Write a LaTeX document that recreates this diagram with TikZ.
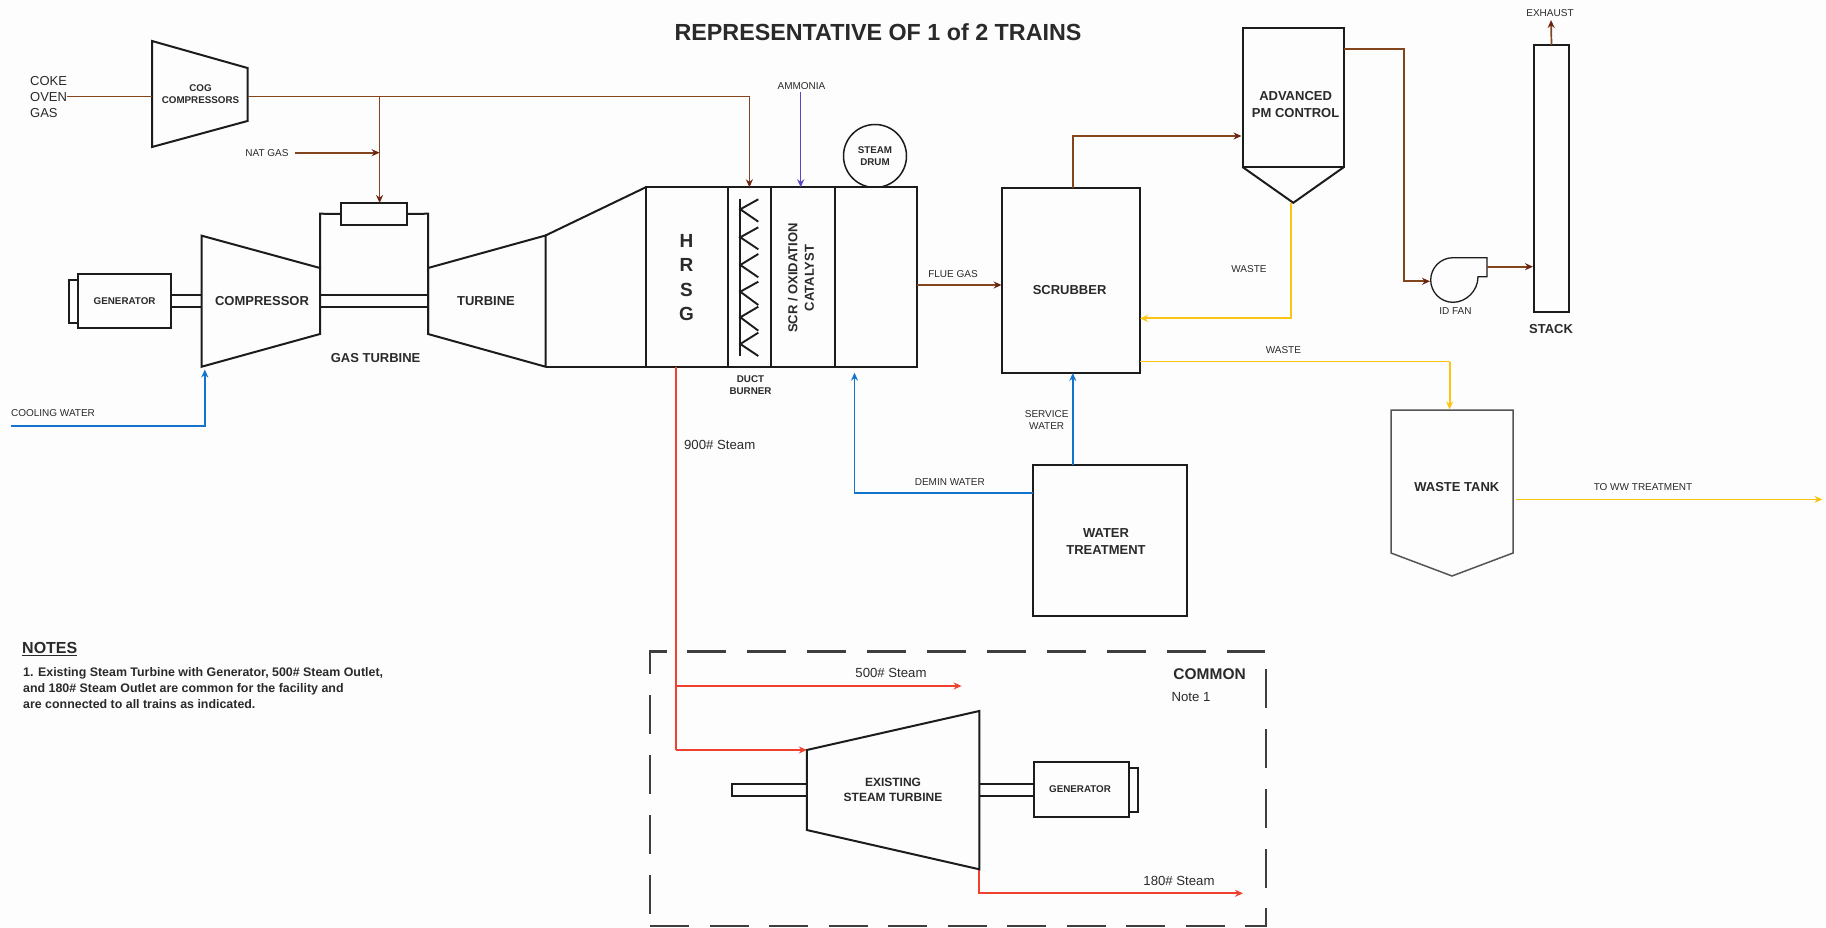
\documentclass[tikz,border=0pt]{standalone}
\usepackage{fontspec}
\setmainfont{Liberation Sans}
\usetikzlibrary{arrows.meta}
\definecolor{gascol}{HTML}{84451E}
\definecolor{tipcol}{HTML}{6B2412}
\definecolor{watercol}{HTML}{1274CC}
\definecolor{steamcol}{HTML}{F0402F}
\definecolor{wastecol}{HTML}{FBC512}
\definecolor{ammcol}{HTML}{5A46C4}
\definecolor{inkcol}{HTML}{2A2A2A}
\definecolor{linecol}{HTML}{1C1C1C}
\definecolor{paper}{HTML}{FDFDFD}
\tikzset{
  ln/.style={draw=linecol,line width=2pt,line join=miter},
  boxn/.style={draw=linecol,line width=2pt,inner sep=0pt,outer sep=0pt,rectangle},
  tip/.style={-{Stealth[length=8pt,width=7pt]}},
  gas/.style={draw=gascol,line width=1.7pt,arrows={-{Stealth[length=8pt,width=7pt,color=tipcol]}}},
  gasn/.style={draw=gascol,line width=1.7pt},
  water/.style={draw=watercol,line width=1.9pt,tip},
  steam/.style={draw=steamcol,line width=1.7pt,tip},
  steamn/.style={draw=steamcol,line width=1.7pt},
  waste/.style={draw=wastecol,line width=1.9pt,tip},
  wastethin/.style={draw=wastecol,line width=1.4pt,tip},
  amm/.style={draw=ammcol,line width=1.4pt,tip},
  txt/.style={text=inkcol,inner sep=0pt,align=center},
  t8/.style={txt,font=\fontsize{10}{12}\selectfont},
  t8b/.style={txt,font=\fontsize{9.8}{12}\selectfont\bfseries},
  t12/.style={txt,font=\fontsize{13.2}{14}\selectfont},
  t13b/.style={txt,font=\fontsize{13}{16.5}\selectfont\bfseries},
  dsh/.style={draw=linecol!85,line width=2.6pt}
}
\begin{document}
\begin{tikzpicture}[x=1pt,y=-1pt]
\useasboundingbox (0,0) rectangle (1826,928);
\fill[paper] (0,0) rectangle (1826,928);

% ---- named points
\coordinate (cogtl) at (152,41);
\coordinate (cogtr) at (247.5,68);
\coordinate (cogbr) at (247.5,121);
\coordinate (cogbl) at (152,147);
\coordinate (cogin) at (152,96.5);
\coordinate (cogout) at (247.5,96.5);
\coordinate (branch) at (379.6,96.5);
\coordinate (natjoin) at (379.6,152.7);
\coordinate (ductdrop) at (749.4,96.5);
\coordinate (comtl) at (201.7,235.7);
\coordinate (comtr) at (320,268);
\coordinate (combr) at (320,334);
\coordinate (combl) at (201.7,366.7);
\coordinate (turtl) at (428,268);
\coordinate (turtr) at (545.5,235.5);
\coordinate (turbr) at (545.5,366.7);
\coordinate (turbl) at (428,334);
\coordinate (coolstart) at (11,425.7);
\coordinate (coolend) at (204.8,369.5);
\coordinate (hrsgbl) at (645.7,366.7);
\coordinate (ammstart) at (800.7,92);
\coordinate (demeup) at (854.5,372.7);
\coordinate (scrout) at (1072.8,188);
\coordinate (apex) at (1293.3,202.8);
\coordinate (fanin) at (1430,281.3);
\coordinate (fanout) at (1487,266.7);
\coordinate (stackin) at (1533,266.7);
\coordinate (exhend) at (1551,20);
\coordinate (tankout) at (1516,499.4);
\coordinate (wwend) at (1822.5,499.4);
\coordinate (stin) at (806.8,750);
\coordinate (sttr) at (979.3,711);
\coordinate (stbr) at (979.3,869.3);
\coordinate (stbl) at (806.8,830);
\coordinate (s500) at (961.6,686);
\coordinate (s180) at (1243,893.3);

% ---- COG compressors
\draw[ln] (cogtl) -- (cogtr) -- (cogbr) -- (cogbl) -- cycle;
\node[t8b] (cogtxt) at (200.5,94) {COG\\COMPRESSORS};
\node[anchor=west,txt,font=\fontsize{13}{16}\selectfont,align=left] (coke) at (30,97) {COKE\\OVEN\\GAS};

% ---- gas turbine
\node[boxn,minimum width=92.7,minimum height=54] (gen1) at (124.6,301) {};
\node[t8b] (gen1t) at (124.6,301) {GENERATOR};
\draw[ln] (gen1.west |- 0,280) -- (69,280) -- (69,322.7) -- (gen1.west |- 0,322.7);
\draw[ln] (comtl) -- (comtr) -- (combr) -- (combl) -- cycle;
\node[t13b] (comptxt) at (262,301) {COMPRESSOR};
\draw[ln] (turtl) -- (turtr) -- (turbr) -- (turbl) -- cycle;
\node[t13b] (turbtxt) at (486,301) {TURBINE};
\node[boxn,minimum width=66,minimum height=22,fill=paper] (comb) at (374,214) {};
\draw[ln] (comtr) -- (320,213.7) -- (comb.west);
\draw[ln] (comb.east) -- (428,213.7) -- (turbl);
\draw[ln] (gen1.east |- 0,295) -- (comtl |- 0,295);
\draw[ln] (gen1.east |- 0,306.7) -- (comtl |- 0,306.7);
\draw[ln] (320,295) -- (428,295);
\draw[ln] (320,306.7) -- (428,306.7);
\node[t13b] (gtlabel) at (375.6,358) {GAS TURBINE};

% ---- duct and HRSG sections
\node[boxn,minimum width=81.9,minimum height=179.4] (hrsg) at (686.65,277) {};
\node[txt,font=\fontsize{19}{24.3}\selectfont\bfseries] (hrsgt) at (686.5,277.5) {H\\R\\S\\G};
\node[boxn,minimum width=43.4,minimum height=179.4] (duct) at (749.3,277) {};
\node[boxn,minimum width=64,minimum height=179.4] (scr) at (803,277) {};
\node[t13b,rotate=90] (scrt) at (801,278) {SCR / OXIDATION\\CATALYST};
\node[circle,draw=linecol,line width=1.5pt,minimum size=63,inner sep=0pt] (drum) at (875,156) {};
\node[t8b] (drumt) at (875,156) {STEAM\\DRUM};
\node[boxn,minimum width=81.6,minimum height=179.4,fill=paper] (sec4) at (875.8,277) {};
\draw[ln] (turtr) -- (hrsg.north west);
\draw[ln] (turbr) -- (hrsgbl);
% burner zigzag
\draw[line width=1.9pt,draw=linecol] (740.3,199.3) -- (740.3,356);
\foreach \a/\b/\c in {199.3/209.3/221.7, 227.3/237.3/249.3, 254/265/277.3, 281.7/291.7/305, 306.7/317.3/330.7, 332.7/344/356}{
  \draw[line width=1.9pt,draw=linecol] (758.3,\a) -- (740.3,\b) -- (758.3,\c);
}
\node[t8b] (ductt) at (750.5,385) {DUCT\\BURNER};
\node[t8] (ammt) at (801.5,86) {AMMONIA};

% ---- scrubber etc
\node[boxn,minimum width=138.4,minimum height=185] (scrub) at (1070.8,280.5) {};
\node[t13b] (scrubt) at (1069.6,290) {SCRUBBER};
\node[boxn,minimum width=154.5,minimum height=151] (wt) at (1110.2,540.5) {};
\node[t13b] (wtt) at (1106,541.5) {WATER\\TREATMENT};
\draw[ln] (1242.5,28) rectangle (1344,167);
\draw[ln] (1242.5,167) -- (apex) -- (1344,167);
\node[t13b] (pmt) at (1295.6,104.5) {ADVANCED\\PM CONTROL};
\node[boxn,minimum width=35,minimum height=267] (stack) at (1551.5,178.5) {};
\node[t13b] (stackt) at (1551,329) {STACK};
\draw[draw=linecol,line width=1.3pt] (1478,276.7) .. controls (1478,291) and (1466,302.3) .. (1453,302.3) .. controls (1440.7,302.3) and (1430.7,292.3) .. (1430.7,280) .. controls (1430.7,267.7) and (1440.7,257.7) .. (1453,257.7) -- (1487,257.7) -- (1487,276.7) -- cycle;
\node[t8] (fant) at (1455.4,311) {ID FAN};
\draw[draw=linecol!75,line width=1.5pt] (1391,410) -- (1513,410) -- (1513,553) -- (1452,576) -- (1391,553) -- cycle;
\node[t13b] (tankt) at (1456.8,487) {WASTE TANK};

% ---- gas connectors
\draw[gasn] (coke.east |- cogin) -- (cogin);
\draw[gasn] (cogout) -- (ductdrop);
\draw[gas] (ductdrop) -- (ductdrop |- duct.north);
\draw[gas] (branch) -- (branch |- comb.north);
\node[t8] (natt) at (267,152.7) {NAT GAS};
\draw[gas] ([xshift=6pt]natt.east |- natjoin) -- (natjoin);
\draw[amm] (ammstart) -- (ammstart |- scr.north);
\draw[gas] (sec4.east |- 0,285) -- (scrub.west |- 0,285);
\node[t8] (fluet) at (953,274) {FLUE GAS};
\draw[gas] (scrout) -- (1072.8,136) -- (1241.5,136);
\draw[gas] (1344,49) -- (1403.7,49) -- (1403.7,281.3) -- (fanin);
\draw[gas] (fanout) -- (stackin);
\draw[gas] (stack.north) -- (exhend);
\node[t8] (exht) at (1550,13.4) {EXHAUST};

% ---- water connectors
\draw[water] (coolstart) -- (204.8,425.7) -- (coolend);
\node[t8] (coolt) at (53,413) {COOLING WATER};
\draw[water] (wt.north -| scrout) -- (scrub.south -| scrout);
\node[t8] (servt) at (1046.7,420) {SERVICE\\WATER};
\draw[water] (wt.west |- 0,492.7) -- (854.5,492.7) -- (demeup);
\node[t8] (demt) at (949.8,481.7) {DEMIN WATER};

% ---- waste connectors
\draw[waste] (1291,203) -- (1291,318.4) -- (scrub.east |- 0,318.4);
\node[t8] (w1t) at (1249,268.7) {WASTE};
\draw[draw=wastecol,line width=1.4pt] (scrub.east |- 0,361.7) -- (1449.6,361.7);
\draw[waste] (1449.6,361.7) -- (1449.6,409.5);
\node[t8] (w2t) at (1283.4,350) {WASTE};
\draw[wastethin] (tankout) -- (wwend);
\node[t8] (wwt) at (1643,487) {TO WW TREATMENT};

% ---- steam connectors
\draw[steamn] (hrsg.south -| 676.3,0) -- (676.3,750);
\draw[steam] (676.3,686) -- (s500);
\draw[steam] (676.3,750) -- (stin);
\draw[steam] (stbr) -- (979.3,893.3) -- (s180);
\node[t12] (t900) at (719.7,445) {900\# Steam};
\node[t12] (t500) at (891,673) {500\# Steam};
\node[t12] (t180) at (1179,881) {180\# Steam};

% ---- existing steam turbine
\draw[ln] (stin) -- (sttr) -- (stbr) -- (stbl) -- cycle;
\node[t13b,font=\fontsize{12}{15.7}\selectfont\bfseries] (stt) at (893,790) {EXISTING\\STEAM TURBINE};
\draw[ln] (806.8,784.3) -- (732,784.3) -- (732,795.7) -- (806.8,795.7);
\node[boxn,minimum width=94.7,minimum height=55] (gen2) at (1081.35,789.8) {};
\node[t8b] (gen2t) at (1080,789.3) {GENERATOR};
\draw[ln] (979.3,784.3) -- (gen2.west |- 0,784.3);
\draw[ln] (979.3,796) -- (gen2.west |- 0,796);
\draw[ln] (gen2.east |- 0,767.7) -- (1138.4,767.7) -- (1138.4,811.7) -- (gen2.east |- 0,811.7);

% ---- COMMON boundary
\draw[dsh] (650,674) -- (650,651.7) -- (667,651.7);
\draw[dsh,dash pattern=on 39pt off 21pt] (650,695) -- (650,926);
\draw[dsh,dash pattern=on 39pt off 21pt] (687,651.7) -- (1265,651.7);
\draw[dsh,dash pattern=on 39pt off 21pt] (1266,669) -- (1266,905);
\draw[dsh] (1266,908) -- (1266,926) -- (1245,926);
\draw[dsh,dash pattern=on 39pt off 20.5pt] (650,926) -- (1232,926);
\node[txt,font=\fontsize{15.5}{18}\selectfont\bfseries] (common) at (1209.6,674.3) {COMMON};
\node[t12] (note1) at (1191,696.7) {Note 1};

% ---- title and notes
\node[txt,font=\fontsize{23.3}{26}\selectfont\bfseries] (title) at (878,32.6) {REPRESENTATIVE OF 1 of 2 TRAINS};
\node[txt,anchor=west,font=\fontsize{16}{18}\selectfont\bfseries] (notes) at (22,649) {\underline{NOTES}};
\node[txt,anchor=north west,align=left,font=\fontsize{12.4}{16}\selectfont\bfseries] (notest) at (23,667) {1. Existing Steam Turbine with Generator, 500\# Steam Outlet,\\and 180\# Steam Outlet are common for the facility and\\are connected to all trains as indicated.};
\end{tikzpicture}
\end{document}
